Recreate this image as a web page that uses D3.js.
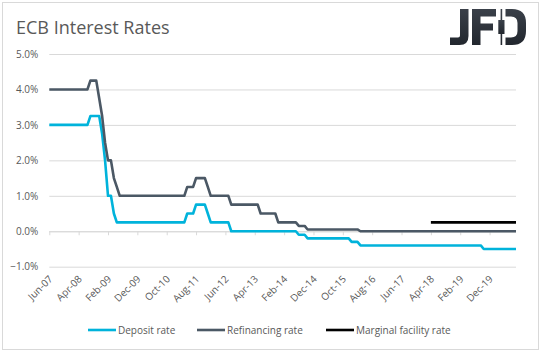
<!DOCTYPE html>
<html>
<head>
<meta charset="utf-8">
<script src="https://cdn.jsdelivr.net/npm/d3@7"></script>
<style>
  html, body { margin: 0; padding: 0; background: #fff; }
  svg { display: block; font-family: "Open Sans", "DejaVu Sans", sans-serif; }
</style>
</head>
<body>
<svg id="chart" width="543" height="352"></svg>
<script>
// ---- Data (monthly, Jun-07 .. Sep-20) ----
const firstMonth = new Date(2007, 5, 1);
const endMonth = new Date(2020, 9, 1); // exclusive
const tickLabels = ["Jun-07","Apr-08","Feb-09","Dec-09","Oct-10","Aug-11","Jun-12","Apr-13",
                    "Feb-14","Dec-14","Oct-15","Aug-16","Jun-17","Apr-18","Feb-19","Dec-19"];
const yTicks = [-1, 0, 1, 2, 3, 4, 5];
const seriesNames = ["Deposit rate", "Refinancing rate", "Marginal facility rate"];
const seriesColors = ["#00B3DB", "#4B5865", "#000000"];

const depositRate = [
  3,3,3,3,3,3,3,3,3,3,
  3,3,3,3,3.25,3.25,3.25,3.25,2.75,2,
  1,1,0.5,0.25,0.25,0.25,0.25,0.25,0.25,0.25,
  0.25,0.25,0.25,0.25,0.25,0.25,0.25,0.25,0.25,0.25,
  0.25,0.25,0.25,0.25,0.25,0.25,0.25,0.5,0.5,0.5,
  0.75,0.75,0.75,0.75,0.5,0.25,0.25,0.25,0.25,0.25,
  0.25,0.25,0,0,0,0,0,0,0,0,
  0,0,0,0,0,0,0,0,0,0,
  0,0,0,0,0,-0.1,-0.1,-0.1,-0.2,-0.2,
  -0.2,-0.2,-0.2,-0.2,-0.2,-0.2,-0.2,-0.2,-0.2,-0.2,
  -0.2,-0.2,-0.2,-0.3,-0.3,-0.3,-0.4,-0.4,-0.4,-0.4,
  -0.4,-0.4,-0.4,-0.4,-0.4,-0.4,-0.4,-0.4,-0.4,-0.4,
  -0.4,-0.4,-0.4,-0.4,-0.4,-0.4,-0.4,-0.4,-0.4,-0.4,
  -0.4,-0.4,-0.4,-0.4,-0.4,-0.4,-0.4,-0.4,-0.4,-0.4,
  -0.4,-0.4,-0.4,-0.4,-0.4,-0.4,-0.4,-0.4,-0.5,-0.5,
  -0.5,-0.5,-0.5,-0.5,-0.5,-0.5,-0.5,-0.5,-0.5,-0.5
];
const refinancingRate = [
  4,4,4,4,4,4,4,4,4,4,
  4,4,4,4,4.25,4.25,4.25,3.75,3.25,2.5,
  2,2,1.5,1.25,1,1,1,1,1,1,
  1,1,1,1,1,1,1,1,1,1,
  1,1,1,1,1,1,1,1.25,1.25,1.25,
  1.5,1.5,1.5,1.5,1.25,1,1,1,1,1,
  1,1,0.75,0.75,0.75,0.75,0.75,0.75,0.75,0.75,
  0.75,0.75,0.5,0.5,0.5,0.5,0.5,0.5,0.25,0.25,
  0.25,0.25,0.25,0.25,0.25,0.15,0.15,0.15,0.05,0.05,
  0.05,0.05,0.05,0.05,0.05,0.05,0.05,0.05,0.05,0.05,
  0.05,0.05,0.05,0.05,0.05,0.05,0,0,0,0,
  0,0,0,0,0,0,0,0,0,0,
  0,0,0,0,0,0,0,0,0,0,
  0,0,0,0,0,0,0,0,0,0,
  0,0,0,0,0,0,0,0,0,0,
  0,0,0,0,0,0,0,0,0,0
];
const marginalFacilityRate = [
  null,null,null,null,null,null,null,null,null,null,
  null,null,null,null,null,null,null,null,null,null,
  null,null,null,null,null,null,null,null,null,null,
  null,null,null,null,null,null,null,null,null,null,
  null,null,null,null,null,null,null,null,null,null,
  null,null,null,null,null,null,null,null,null,null,
  null,null,null,null,null,null,null,null,null,null,
  null,null,null,null,null,null,null,null,null,null,
  null,null,null,null,null,null,null,null,null,null,
  null,null,null,null,null,null,null,null,null,null,
  null,null,null,null,null,null,null,null,null,null,
  null,null,null,null,null,null,null,null,null,null,
  null,null,null,null,null,null,null,null,null,null,
  0.25,0.25,0.25,0.25,0.25,0.25,0.25,0.25,0.25,0.25,
  0.25,0.25,0.25,0.25,0.25,0.25,0.25,0.25,0.25,0.25,
  0.25,0.25,0.25,0.25,0.25,0.25,0.25,0.25,0.25,0.25
];

// ---- Chart ----
const fmtMonth = d3.timeFormat("%b-%y");
const categories = d3.timeMonth.range(firstMonth, endMonth).map(fmtMonth);
const series = [depositRate, refinancingRate, marginalFacilityRate];

const svg = d3.select("#chart");
const plot = { left: 49.3, right: 516, top: 54, bottom: 266.7 };
const grey = "#595959";
const gridColor = "#D9D9D9";

// border
svg.append("rect").attr("x", 2.5).attr("y", 2.5).attr("width", 536).attr("height", 347)
  .attr("fill", "#fff").attr("stroke", gridColor).attr("stroke-width", 1);

const x = d3.scalePoint().domain(categories).range([plot.left, plot.right]);
const y = d3.scaleLinear().domain([-1, 5]).range([plot.bottom, plot.top]);

// gridlines + y labels
const yAxis = d3.axisLeft(y).tickValues(yTicks).tickSize(-(plot.right - plot.left))
  .tickFormat(d => d3.format(".1f")(d) + "%").tickPadding(11);
const yG = svg.append("g").attr("transform", `translate(${plot.left},0)`).call(yAxis);
yG.select(".domain").remove();
yG.selectAll(".tick line").attr("stroke", gridColor).attr("stroke-width", 1);
yG.selectAll(".tick text").attr("fill", grey).attr("font-size", 10)
  .attr("font-family", "'Open Sans', sans-serif");

// category axis at 0% with tick marks
const xAxis = d3.axisBottom(x).tickValues(tickLabels).tickSize(4).tickFormat("");
const xG = svg.append("g").attr("transform", `translate(0,${y(0)})`).call(xAxis);
xG.select(".domain").attr("stroke", gridColor).attr("d", `M${plot.left},0.5H${plot.right}`);
xG.selectAll(".tick line").attr("stroke", gridColor);

// rotated category labels at the bottom
svg.append("g").selectAll("text").data(tickLabels).join("text")
  .attr("transform", d => `translate(${x(d) + 4},${plot.bottom + 13}) rotate(-45)`)
  .attr("text-anchor", "end")
  .attr("fill", grey).attr("font-size", 10)
  .text(d => d);

// lines
const line = d3.line()
  .defined(d => d.v !== null)
  .x(d => x(d.c)).y(d => y(d.v));
series.forEach((s, k) => {
  svg.append("path")
    .datum(s.map((v, i) => ({ c: categories[i], v })))
    .attr("fill", "none")
    .attr("stroke", seriesColors[k])
    .attr("stroke-width", 2.6)
    .attr("stroke-linejoin", "round")
    .attr("d", line);
});

// title
svg.append("text").attr("x", 16).attr("y", 33.5)
  .attr("fill", grey).attr("font-size", 18).text("ECB Interest Rates");

// legend
const legendX = [88, 197, 326];
const lg = svg.append("g");
seriesNames.forEach((n, k) => {
  lg.append("line").attr("x1", legendX[k]).attr("x2", legendX[k] + 28)
    .attr("y1", 330).attr("y2", 330)
    .attr("stroke", seriesColors[k]).attr("stroke-width", 2.6);
  lg.append("text").attr("x", legendX[k] + 30).attr("y", 333.5)
    .attr("fill", grey).attr("font-size", 10).text(n);
});

// JFD logo
const defs = svg.append("defs");
const gr = defs.append("linearGradient").attr("id", "lg").attr("x1", 0).attr("y1", 0).attr("x2", 0).attr("y2", 1);
gr.append("stop").attr("offset", "0%").attr("stop-color", "#3a4049");
gr.append("stop").attr("offset", "100%").attr("stop-color", "#22272e");
const logo = svg.append("g").attr("fill", "url(#lg)");
// J
logo.append("path").attr("d", "M460,9 H468.5 V36 Q468.5,45 459.5,45 H450 V37.5 H458 Q460,37.5 460,35.5 Z");
// F
logo.append("path").attr("d", "M472,9 H496 V16.5 H480.5 V23.5 H493 V30.5 H480.5 V45 H472 Z");
// D outline
logo.append("path").attr("d", "M505.5,9 H512 Q526,9 526,23 V31 Q526,45 512,45 H505.5 V37.5 H511 Q517.5,37.5 517.5,31 V23 Q517.5,16.5 511,16.5 H505.5 Z");
// candlestick in D
logo.append("rect").attr("x", 500.6).attr("y", 9).attr("width", 1.6).attr("height", 36);
logo.append("rect").attr("x", 498.3).attr("y", 20).attr("width", 6.2).attr("height", 14);
</script>
</body>
</html>
